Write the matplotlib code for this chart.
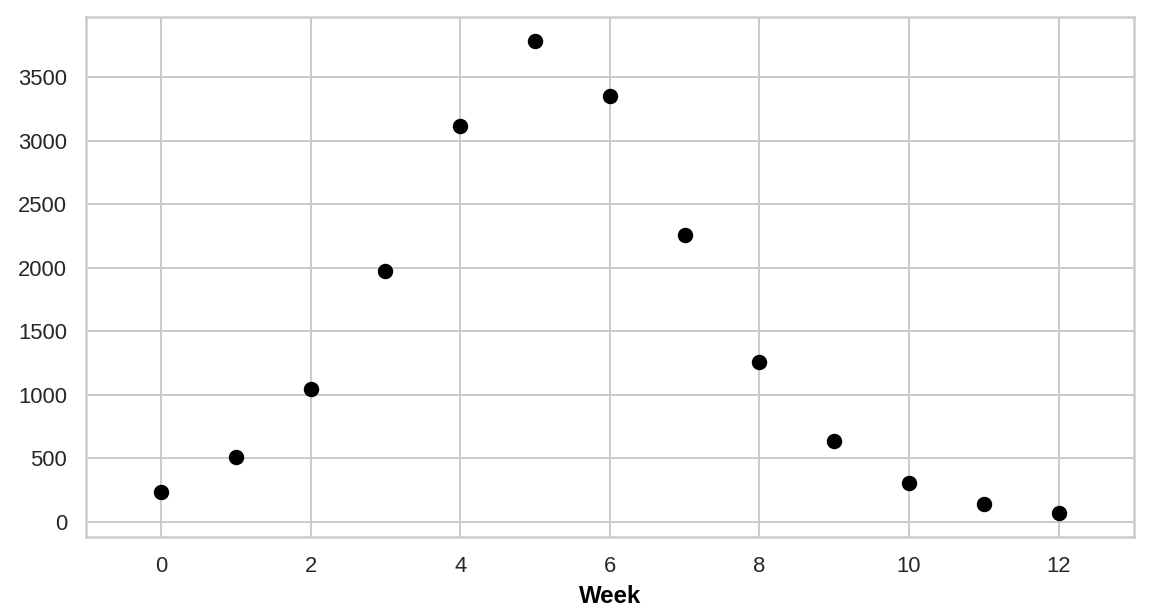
import numpy as np
import matplotlib
matplotlib.use("Agg")
import matplotlib.pyplot as plt
import seaborn as sns

# valeurs
weeks = np.arange(0, 13)
counts = [236, 512, 1047, 1975, 3120, 3788, 3356, 2254, 1259, 634, 303, 138, 64]

sns.set_theme(style="whitegrid")
plt.rcParams['font.family'] = ['Liberation Sans', 'DejaVu Sans']

fig, ax = plt.subplots(figsize=(8, 611 / 144), dpi=144)
ax.scatter(weeks, counts, color='black', s=45, zorder=3)
ax.set_xlim(-1, 13)
ax.set_xticks(np.arange(0, 13, 2))
ax.set_yticks(np.arange(0, 4000, 500))
ax.set_xlabel('Week', fontweight='bold', color='black')
ax.tick_params(labelsize=11)
fig.subplots_adjust(left=0.0747, right=0.984, top=0.972, bottom=0.121)
fig.savefig('out.png', dpi=144)
